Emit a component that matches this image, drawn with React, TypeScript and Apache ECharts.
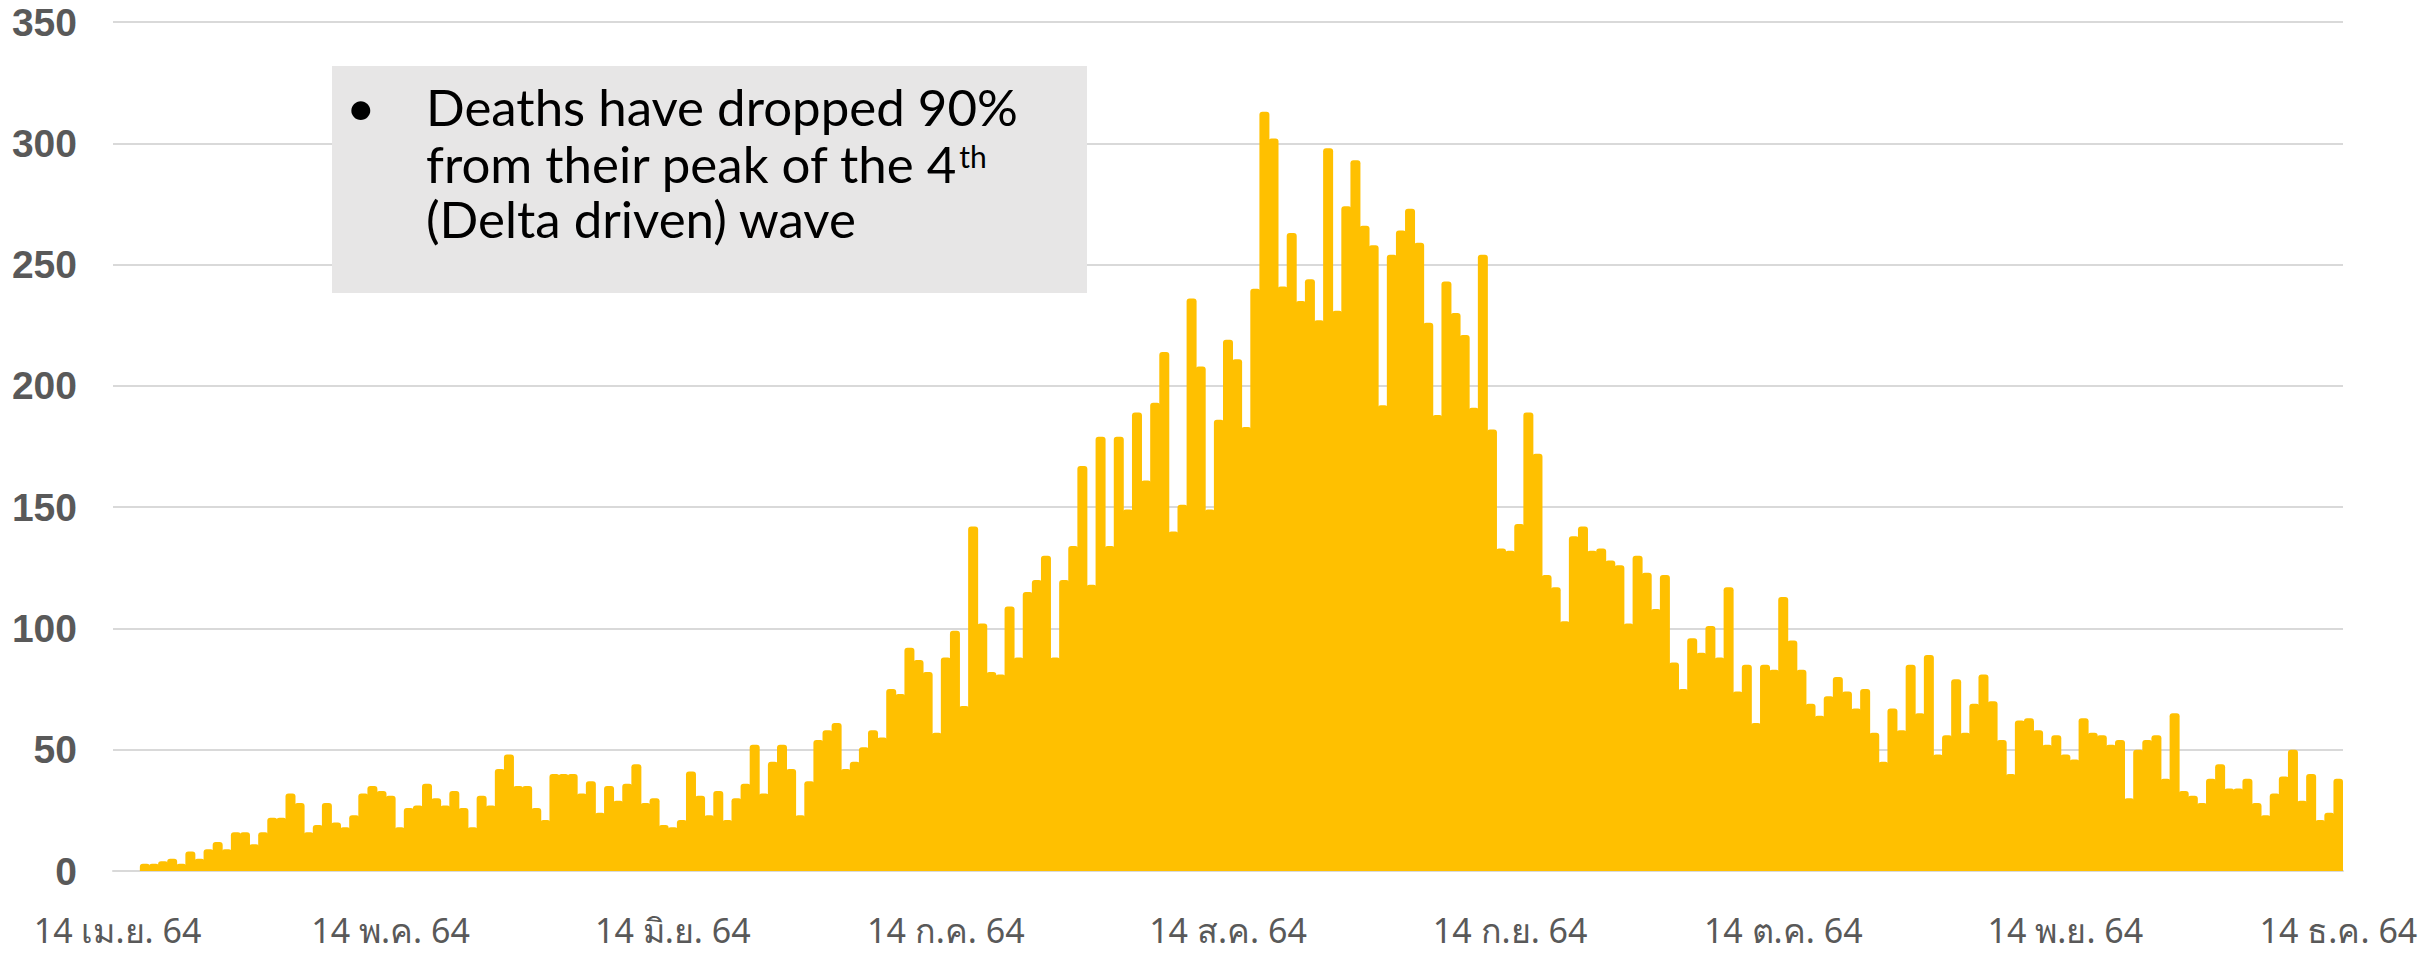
import React, { useEffect, useRef } from "react";
import * as echarts from "echarts";

// Daily COVID-19 deaths, Thailand, 14 Apr 2021 (2564 BE) – 14 Dec 2021
const startDateUTC = Date.UTC(2021, 3, 14);
const dayCount = 245;
const firstReportedIndex = 3; // first bar: 17 Apr
const tickDates = [
  "2021-04-14", "2021-05-14", "2021-06-14", "2021-07-14", "2021-08-14",
  "2021-09-14", "2021-10-14", "2021-11-14", "2021-12-14",
];
const tickLabels = [
  "14 เม.ย. 64", "14 พ.ค. 64", "14 มิ.ย. 64", "14 ก.ค. 64", "14 ส.ค. 64",
  "14 ก.ย. 64", "14 ต.ค. 64", "14 พ.ย. 64", "14 ธ.ค. 64",
];
const deaths = [
  3, 3, 4, 5, 3, 8, 5, 9, 12, 9,
  16, 16, 11, 16, 22, 22, 32, 28, 16, 19,
  28, 20, 18, 23, 32, 35, 33, 31, 18, 26,
  27, 36, 30, 27, 33, 26, 18, 31, 27, 42,
  48, 35, 35, 26, 21, 40, 40, 40, 32, 37,
  24, 35, 29, 36, 44, 28, 30, 19, 18, 21,
  41, 31, 23, 33, 21, 30, 36, 52, 32, 45,
  52, 42, 23, 37, 54, 58, 61, 42, 45, 51,
  58, 55, 75, 73, 92, 87, 82, 57, 88, 99,
  68, 142, 102, 82, 81, 109, 88, 115, 120, 130,
  88, 120, 134, 167, 118, 179, 134, 179, 149, 189,
  161, 193, 214, 140, 151, 236, 208, 149, 186, 219,
  211, 183, 240, 313, 302, 241, 263, 235, 244, 227,
  298, 231, 274, 293, 266, 258, 192, 254, 264, 273,
  259, 226, 188, 243, 230, 221, 191, 254, 182, 133,
  132, 143, 189, 172, 122, 117, 103, 138, 142, 132,
  133, 128, 126, 102, 130, 123, 108, 122, 86, 75,
  96, 90, 101, 88, 117, 74, 85, 61, 85, 83,
  113, 95, 83, 69, 64, 72, 80, 74, 67, 75,
  57, 45, 67, 58, 85, 65, 89, 48, 56, 79,
  57, 69, 81, 70, 54, 40, 62, 63, 58, 52,
  56, 48, 46, 63, 57, 56, 52, 54, 30, 50,
  54, 56, 38, 65, 33, 31, 28, 38, 44, 34,
  34, 38, 28, 23, 32, 39, 50, 29, 40, 21,
  24, 38,
];
const noteLines = [
  "Deaths have dropped 90%",
  "from their peak of the 4",
  "(Delta driven) wave",
];
const noteSup = "th";

function isoDay(i: number): string {
  const d = new Date(startDateUTC + i * 86400000);
  return d.toISOString().slice(0, 10);
}

export default function App() {
  const ref = useRef<HTMLDivElement>(null);

  useEffect(() => {
    if (!ref.current) return;
    const chart = echarts.init(ref.current, undefined, { renderer: "svg" });

    const categories = Array.from({ length: dayCount }, (_, i) => isoDay(i));
    const labelMap: Record<string, string> = {};
    tickDates.forEach((d, k) => (labelMap[d] = tickLabels[k]));
    const seriesData: (number | null)[] = [
      ...Array(firstReportedIndex).fill(null),
      ...deaths,
    ];

    const noteFontSize = 51;
    const noteFont = `${noteFontSize}px Lato`;
    const cvs = document.createElement("canvas");
    const ctx = cvs.getContext("2d")!;
    ctx.font = noteFont;
    const line2Width = ctx.measureText(noteLines[1]).width;

    const textX = 426;
    const lineY = [106, 163, 218];

    chart.setOption({
      animation: false,
      grid: { left: 113, right: 79, top: 22, bottom: 82, containLabel: false },
      xAxis: {
        type: "category",
        data: categories,
        boundaryGap: true,
        axisTick: { show: false },
        axisLine: { lineStyle: { color: "#D9D9D9", width: 2 } },
        axisLabel: {
          interval: (_idx: number, val: string) => val in labelMap,
          formatter: (val: string) => labelMap[val] || "",
          color: "#595959",
          fontSize: 34,
          lineHeight: 34,
          fontFamily: "'Noto Sans', 'DejaVu Sans', sans-serif",
          margin: 42,
          hideOverlap: false,
        },
      },
      yAxis: {
        type: "value",
        min: 0,
        max: 350,
        interval: 50,
        axisLine: { show: false },
        axisTick: { show: false },
        splitLine: { lineStyle: { color: "#D9D9D9", width: 2 } },
        axisLabel: {
          color: "#595959",
          fontSize: 39,
          fontWeight: "bold",
          fontFamily: "'Liberation Sans', Arial, sans-serif",
          margin: 36,
        },
      },
      series: [
        {
          type: "bar",
          data: seriesData,
          barWidth: 10,
          barGap: "0%",
          itemStyle: {
            color: "#FFC000",
            borderRadius: [3, 3, 0, 0],
          },
        },
      ],
      graphic: [
        {
          type: "rect",
          shape: { x: 332, y: 66, width: 755, height: 227 },
          style: { fill: "#E7E6E6" },
          z: 10,
        },
        {
          type: "text",
          x: 346,
          y: lineY[0],
          style: { text: "•", font: noteFont, lineHeight: 51, fill: "#000", verticalAlign: "middle" },
          z: 11,
        },
        ...noteLines.map((t, k) => ({
          type: "text",
          x: textX,
          y: lineY[k],
          style: { text: t, font: noteFont, lineHeight: 51, fill: "#000", verticalAlign: "middle" },
          z: 11,
        })),
        {
          type: "text",
          x: textX + line2Width + 1,
          y: lineY[1] - 7,
          style: {
            text: noteSup,
            font: "30px Lato",
            lineHeight: 24,
            fill: "#000",
            verticalAlign: "middle",
          },
          z: 11,
        },
      ],
    });

    return () => chart.dispose();
  }, []);

  return (
    <div
      ref={ref}
      style={{ position: "fixed", left: 0, top: 0, width: 2422, height: 953, background: "#fff" }}
    />
  );
}
